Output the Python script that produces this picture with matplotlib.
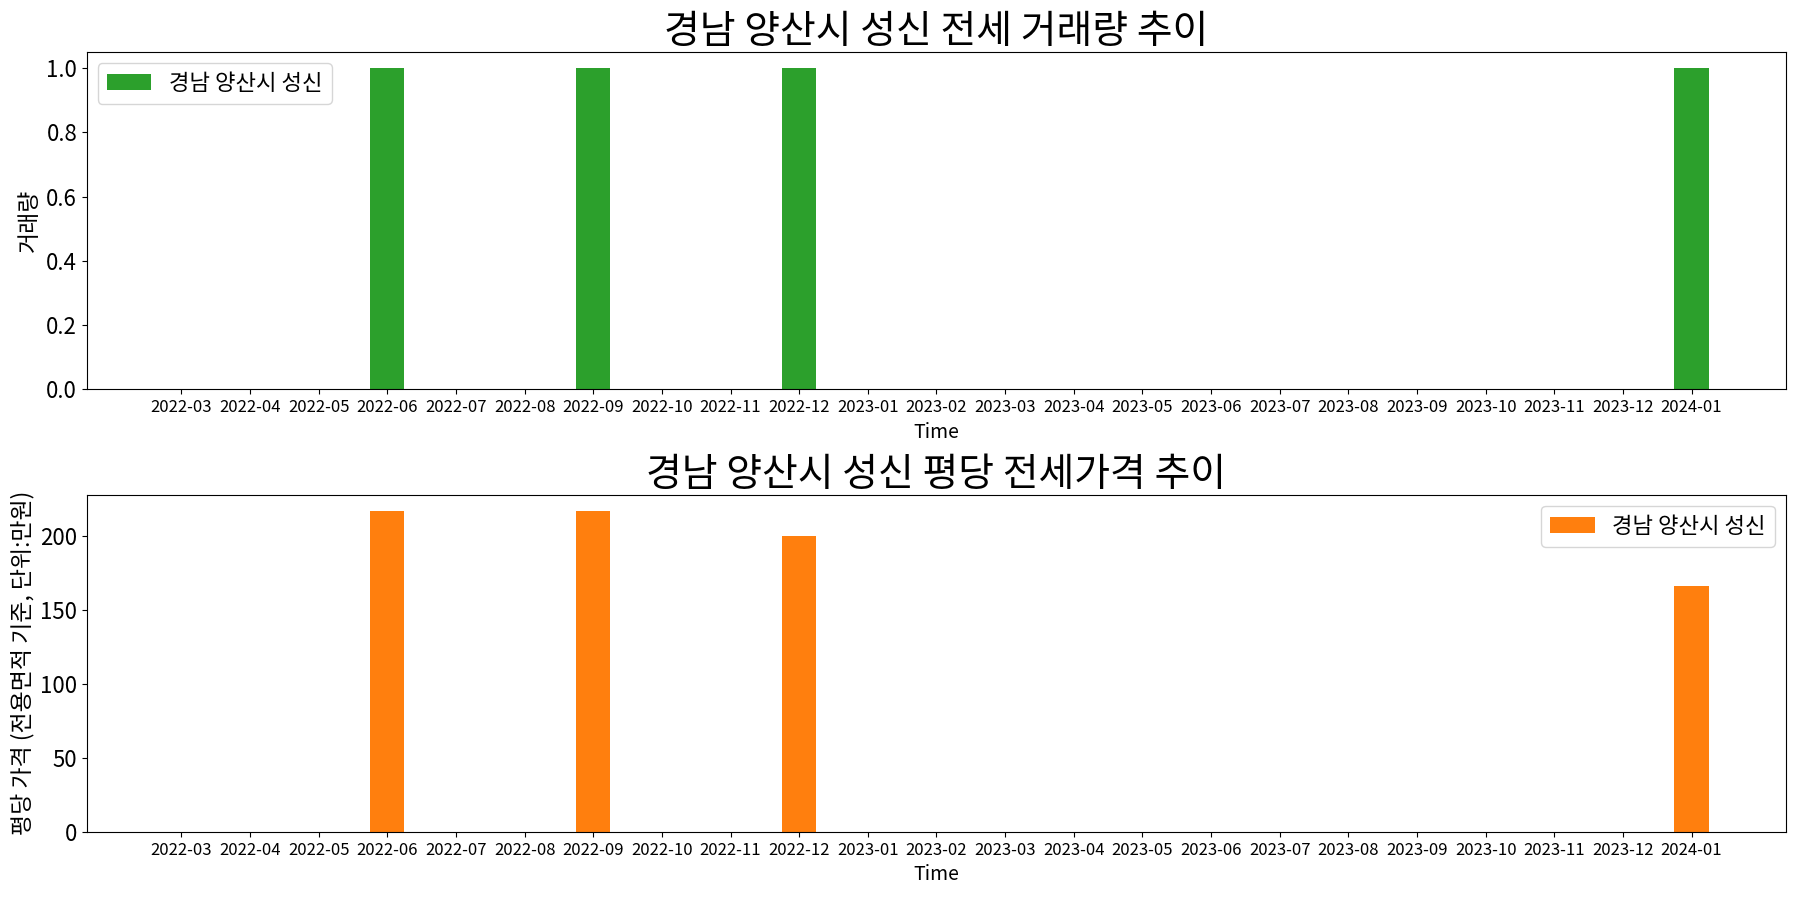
import numpy as np
import matplotlib
matplotlib.use("Agg")
import matplotlib.pyplot as plt

plt.rcParams['font.family'] = ['Noto Sans CJK KR', 'DejaVu Sans']
plt.rcParams['axes.unicode_minus'] = False

months = ['2022-03', '2022-04', '2022-05', '2022-06', '2022-07', '2022-08',
          '2022-09', '2022-10', '2022-11', '2022-12', '2023-01', '2023-02',
          '2023-03', '2023-04', '2023-05', '2023-06', '2023-07', '2023-08',
          '2023-09', '2023-10', '2023-11', '2023-12', '2024-01']
# 거래량 (건수)
volume = [0, 0, 0, 1, 0, 0, 1, 0, 0, 1, 0, 0,
          0, 0, 0, 0, 0, 0, 0, 0, 0, 0, 1]
# 평당 전세가격 (만원)
price = [0, 0, 0, 216.8, 0, 0, 216.8, 0, 0, 199.4, 0, 0,
         0, 0, 0, 0, 0, 0, 0, 0, 0, 0, 165.9]

region = '경남 양산시 성신'

fig, (ax1, ax2) = plt.subplots(2, 1, figsize=(18, 9), dpi=100)
fig.subplots_adjust(left=0.0483, right=0.9922, top=0.9422, bottom=0.0756, hspace=0.312)

x = np.arange(len(months))

ax1.bar(x, volume, width=0.5, color='#2ca02c', label=region)
ax1.set_title(region + ' 전세 거래량 추이', fontsize=28)
ax1.set_ylabel('거래량', fontsize=16.5)
ax1.set_xlabel('Time', fontsize=14)
ax1.set_xticks(x)
ax1.set_xticklabels(months, fontsize=12)
ax1.tick_params(axis='y', labelsize=16)
ax1.legend(loc='upper left', fontsize=16)

ax2.bar(x, price, width=0.5, color='#ff7f0e', label=region)
ax2.set_title(region + ' 평당 전세가격 추이', fontsize=28)
ax2.set_ylabel('평당 가격 (전용면적 기준, 단위:만원)', fontsize=16.5)
ax2.set_xlabel('Time', fontsize=14)
ax2.set_xticks(x)
ax2.set_xticklabels(months, fontsize=12)
ax2.tick_params(axis='y', labelsize=16)
ax2.legend(loc='upper right', fontsize=16)

plt.savefig('out.png')
